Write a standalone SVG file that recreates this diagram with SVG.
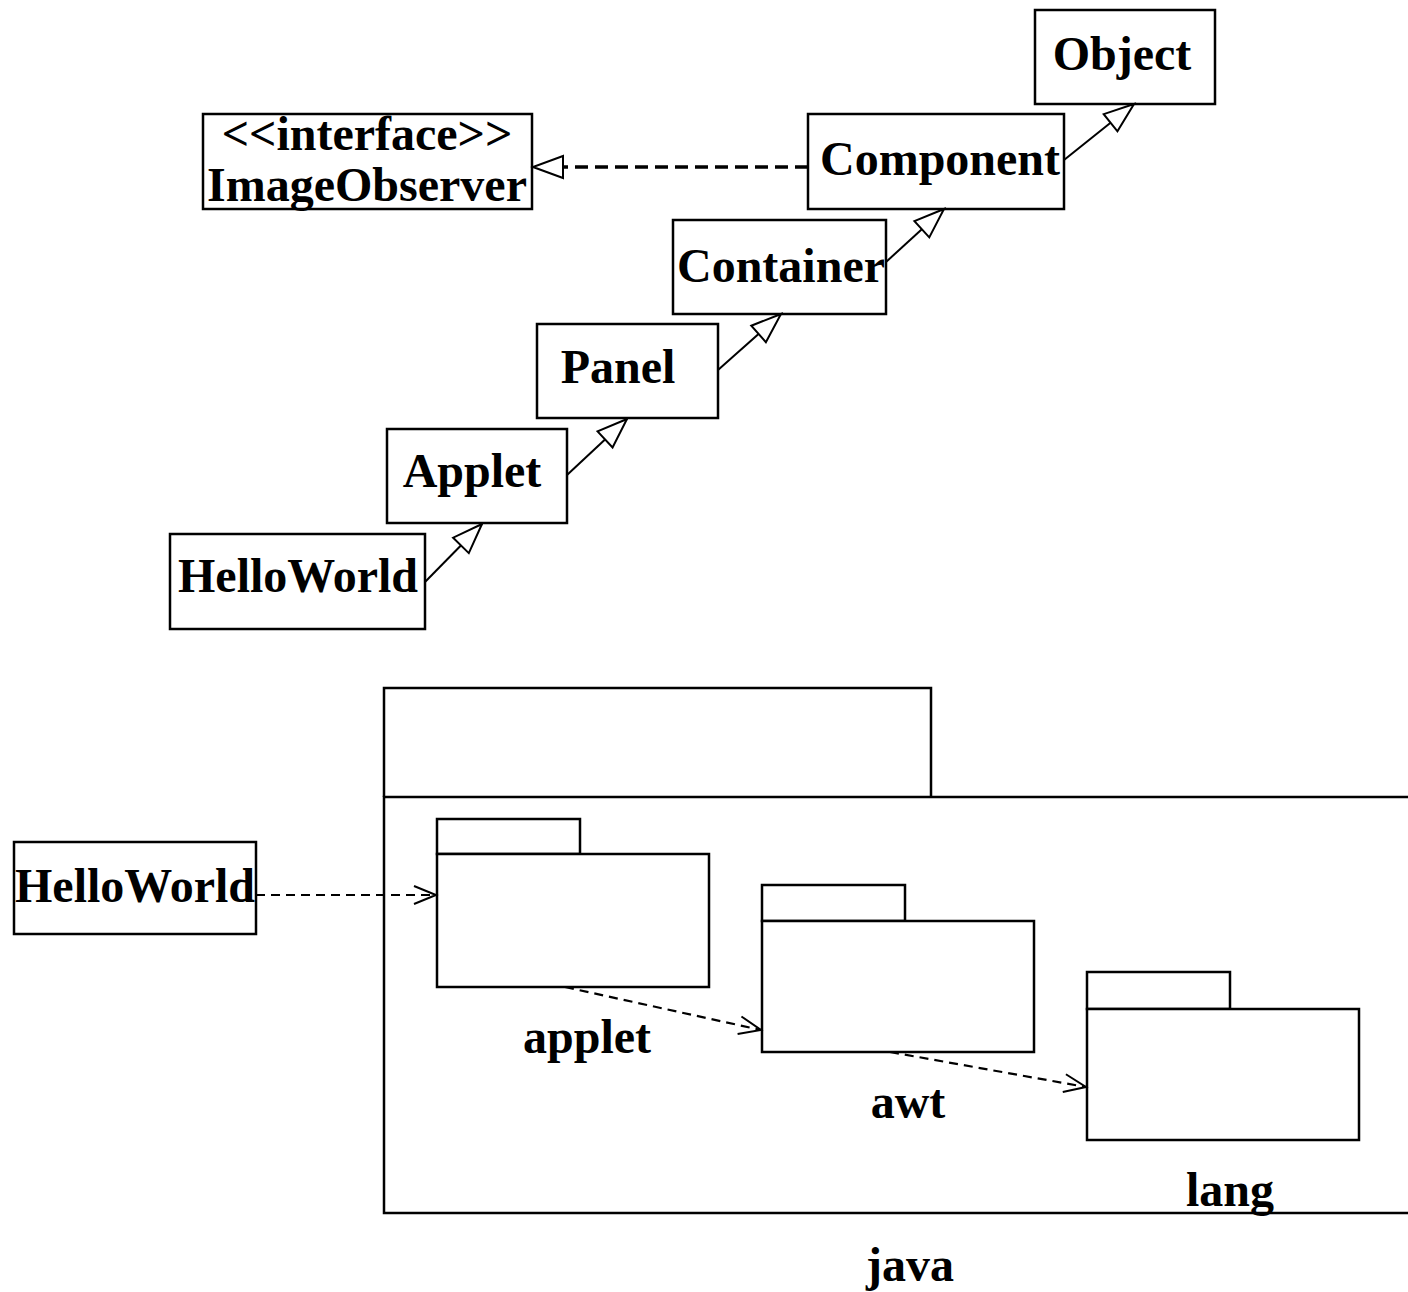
<svg xmlns="http://www.w3.org/2000/svg" width="1408" height="1292" viewBox="0 0 1408 1292">
<style>
.box{fill:#fff;stroke:#000;stroke-width:2.5}
.pk{fill:none;stroke:#000;stroke-width:2.5}
.t{font-family:"Liberation Serif","Times New Roman",serif;font-weight:bold;font-size:48px;fill:#000}
.gen{fill:none;stroke:#000;stroke-width:2}
.real{fill:none;stroke:#000;stroke-width:3.5;stroke-dasharray:13 7}
.dep{fill:none;stroke:#000;stroke-width:2.2;stroke-dasharray:9 6}
</style>
<defs>
<marker id="tri" markerUnits="userSpaceOnUse" markerWidth="40" markerHeight="40" viewBox="-35 -20 40 40" refX="0" refY="0" orient="auto">
<path d="M0,0 L-30,-11 L-30,11 Z" fill="#fff" stroke="#000" stroke-width="2"/>
</marker>
<marker id="open" markerUnits="userSpaceOnUse" markerWidth="40" markerHeight="40" viewBox="-30 -20 40 40" refX="0" refY="0" orient="auto">
<path d="M-22,-9 L0,0 L-22,9" fill="none" stroke="#000" stroke-width="2"/>
</marker>
</defs>
<rect width="1408" height="1292" fill="#fff"/>

<g id="Object"><rect class="box" x="1035" y="10" width="180" height="94"/><text class="t" x="1122" y="70" text-anchor="middle">Object</text></g>
<g id="ImageObserver"><rect class="box" x="203" y="114" width="329" height="95"/><text class="t" x="367" y="150" text-anchor="middle">&lt;&lt;interface&gt;&gt;</text><text class="t" x="367" y="201" text-anchor="middle">ImageObserver</text></g>
<g id="Component"><rect class="box" x="808" y="114" width="256" height="95"/><text class="t" x="940" y="175" text-anchor="middle">Component</text></g>
<g id="Container"><rect class="box" x="673" y="220" width="213" height="94"/><text class="t" x="781" y="282" text-anchor="middle">Container</text></g>
<g id="Panel"><rect class="box" x="537" y="324" width="181" height="94"/><text class="t" x="618" y="383" text-anchor="middle">Panel</text></g>
<g id="Applet"><rect class="box" x="387" y="429" width="180" height="94"/><text class="t" x="472" y="487" text-anchor="middle">Applet</text></g>
<g id="HelloWorld1"><rect class="box" x="170" y="534" width="255" height="95"/><text class="t" x="298" y="592" text-anchor="middle">HelloWorld</text></g>

<g id="java"><path class="pk" d="M384,797 V688 H931 V797"/><path class="pk" d="M1410,797 H384 V1213 H1410"/><text class="t" x="910" y="1281" text-anchor="middle">java</text></g>
<g id="HelloWorld2"><rect class="box" x="14" y="842" width="242" height="92"/><text class="t" x="135" y="902" text-anchor="middle">HelloWorld</text></g>
<g id="applet"><rect class="box" x="437" y="819" width="143" height="35"/><rect class="box" x="437" y="854" width="272" height="133"/><text class="t" x="587" y="1053" text-anchor="middle">applet</text></g>
<g id="awt"><rect class="box" x="762" y="885" width="143" height="36"/><rect class="box" x="762" y="921" width="272" height="131"/><text class="t" x="908" y="1118" text-anchor="middle">awt</text></g>
<g id="lang"><rect class="box" x="1087" y="972" width="143" height="37"/><rect class="box" x="1087" y="1009" width="272" height="131"/><text class="t" x="1230" y="1206" text-anchor="middle">lang</text></g>

<g id="connectors">
<line class="gen" x1="425" y1="582" x2="482" y2="524" marker-end="url(#tri)"/>
<line class="gen" x1="567" y1="475" x2="627" y2="419" marker-end="url(#tri)"/>
<line class="gen" x1="718" y1="370" x2="781" y2="314" marker-end="url(#tri)"/>
<line class="gen" x1="886" y1="262" x2="944" y2="209" marker-end="url(#tri)"/>
<line class="gen" x1="1064" y1="160" x2="1134" y2="104" marker-end="url(#tri)"/>
<line class="real" x1="808" y1="167" x2="533" y2="167" marker-end="url(#tri)"/>
<line class="dep" x1="256" y1="895" x2="436" y2="895" marker-end="url(#open)"/>
<line class="dep" x1="565" y1="987" x2="761" y2="1030" marker-end="url(#open)"/>
<line class="dep" x1="890" y1="1052" x2="1086" y2="1087" marker-end="url(#open)"/>
</g>
</svg>
